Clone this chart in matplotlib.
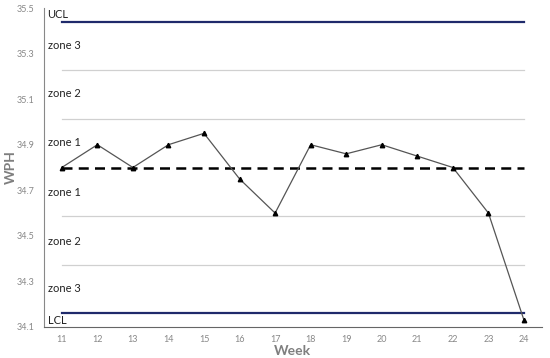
import numpy as np
import matplotlib.pyplot as plt

plt.rcParams['font.family'] = ['Lato', 'DejaVu Sans']

# data
weeks = [11, 12, 13, 14, 15, 16, 17, 18, 19, 20, 21, 22, 23, 24]
wph = [34.8, 34.9, 34.8, 34.9, 34.95, 34.75, 34.6, 34.9, 34.86, 34.9, 34.85, 34.8, 34.6, 34.13]
mean_val = 34.8
ucl = 35.44
lcl = 34.16
zone_lines = [35.227, 35.013, 34.587, 34.373]
zone_labels = ["UCL", "zone 3", "zone 2", "zone 1", "zone 1", "zone 2", "zone 3", "LCL"]
zone_label_y = [35.47, 35.337, 35.126, 34.91, 34.69, 34.476, 34.27, 34.13]
y_ticks = [34.1, 34.3, 34.5, 34.7, 34.9, 35.1, 35.3, 35.5]

fig = plt.figure(figsize=(5.5, 3.58), dpi=100)
ax = fig.add_axes([0.08, 0.0866, 0.905, 0.891])

navy = '#1f2a6b'
for z in zone_lines:
    ax.plot([weeks[0], weeks[-1]], [z, z], color='#d0d0d0', lw=0.9, zorder=1)
ax.plot([weeks[0], weeks[-1]], [ucl, ucl], color=navy, lw=1.6, zorder=2)
ax.plot([weeks[0], weeks[-1]], [lcl, lcl], color=navy, lw=1.6, zorder=2)
ax.plot([weeks[0], weeks[-1]], [mean_val, mean_val], color='black', lw=1.8,
        ls=(0, (4, 2.5)), zorder=2)

ax.plot(weeks, wph, color='#555555', lw=0.9, marker='^', markersize=3.2,
        markerfacecolor='black', markeredgecolor='black', zorder=3)

for lab, yy in zip(zone_labels, zone_label_y):
    ax.text(10.6, yy, lab, fontsize=8, color='#222222', va='center', ha='left')

ax.set_xlim(10.5, 24.5)
ax.set_ylim(34.1, 35.5)
ax.set_xticks(weeks)
ax.set_yticks(y_ticks)
ax.set_yticklabels(["%.1f" % v for v in y_ticks])
ax.tick_params(length=0, labelsize=6.5, colors='#888888')
ax.tick_params(axis='x', pad=6)
ax.tick_params(axis='y', pad=7)

for s in ['top', 'right']:
    ax.spines[s].set_visible(False)
ax.spines['left'].set_color('#888888')
ax.spines['bottom'].set_color('#666666')

ax.set_xlabel('Week', fontsize=10, fontweight='bold', color='#7f7f7f')
ax.set_ylabel('WPH', fontsize=10, fontweight='bold', color='#7f7f7f')
ax.xaxis.set_label_coords(0.5, -0.058)
ax.yaxis.set_label_coords(-0.054, 0.5)

plt.savefig('out.png', dpi=100)
